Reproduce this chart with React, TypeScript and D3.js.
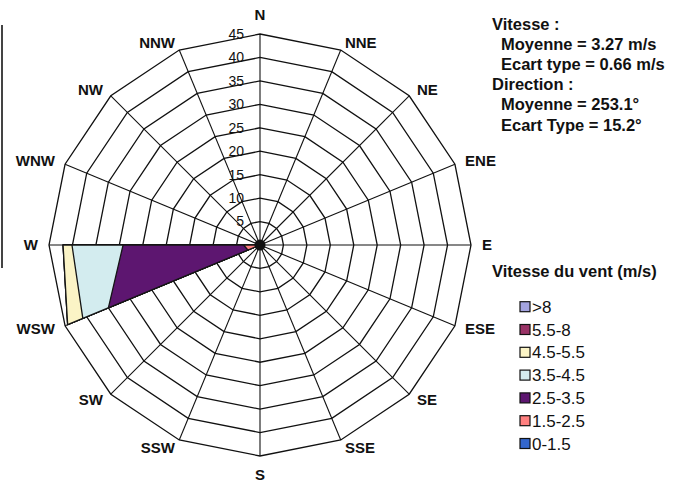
import React from "react";
import * as d3 from "d3";

const directions = ["N","NNE","NE","ENE","E","ESE","SE","SSE","S","SSW","SW","WSW","W","WNW","NW","NNW"];
const speedBins = ["0-1.5","1.5-2.5","2.5-3.5","3.5-4.5","4.5-5.5","5.5-8",">8"];
const binColors = ["#3366cc","#ff8080","#5d1670","#d3ecef","#fbf4c6","#993366","#a3a3df"];
// frequency (%) per direction, index order follows `directions`
const freq0_1_5   = [0,0,0,0,0,0,0,0,0,0,0,0.4,0.5,0,0,0];
const freq1_5_2_5 = [0,0,0,0,0,0,0,0,0,0,0,2.4,3.0,0,0,0];
const freq2_5_3_5 = [0,0,0,0,0,0,0,0,0,0,0,32.2,25.7,0,0,0];
const freq3_5_4_5 = [0,0,0,0,0,0,0,0,0,0,0,5.9,10.9,0,0,0];
const freq4_5_5_5 = [0,0,0,0,0,0,0,0,0,0,0,3.5,1.9,0,0,0];
const freq5_5_8   = [0,0,0,0,0,0,0,0,0,0,0,0,0,0,0,0];
const freqOver8   = [0,0,0,0,0,0,0,0,0,0,0,0,0,0,0,0];
const radialTicks = [5,10,15,20,25,30,35,40,45];
const statsLines = [
  { text: "Vitesse :", indent: false },
  { text: "Moyenne = 3.27 m/s", indent: true },
  { text: "Ecart type = 0.66 m/s", indent: true },
  { text: "Direction :", indent: false },
  { text: "Moyenne = 253.1°", indent: true },
  { text: "Ecart Type = 15.2°", indent: true },
];
const legendTitle = "Vitesse du vent (m/s)";

const W = 675, H = 486;
const cx = 260, cy = 245, R = 211;
const FONT = "'Liberation Sans', Arial, Helvetica, sans-serif";

export default function App() {
  const series = [freq0_1_5, freq1_5_2_5, freq2_5_3_5, freq3_5_4_5, freq4_5_5_5, freq5_5_8, freqOver8];
  const r = d3.scaleLinear().domain([0, 45]).range([0, R]);
  const n = directions.length;
  const ang = (i: number) => (i * 2 * Math.PI) / n;

  const cum: number[][] = [];
  series.forEach((s, k) => {
    cum.push(s.map((v, i) => v + (k > 0 ? cum[k - 1][i] : 0)));
  });

  const radial = d3
    .lineRadial<number>()
    .angle((_, i) => ang(i))
    .radius((d) => r(d))
    .curve(d3.curveLinearClosed);

  const ring = (v: number) => radial(directions.map(() => v)) as string;

  const pt = (i: number, rad: number) => [
    cx + rad * Math.sin(ang(i)),
    cy - rad * Math.cos(ang(i)),
  ];

  return (
    <svg
      width={W}
      height={H}
      style={{ position: "absolute", left: 0, top: 0, background: "#fff" }}
      fontFamily={FONT}
    >
      <rect width={W} height={H} fill="#fff" />
      <line x1={2} y1={25} x2={2} y2={268} stroke="#444" strokeWidth={2} />
      <g transform={`translate(${cx},${cy})`}>
        {radialTicks.map((t) => (
          <path key={t} d={ring(t)} fill="none" stroke="#111" strokeWidth={1.3} />
        ))}
        {directions.map((d, i) => {
          const [x, y] = pt(i, R);
          return (
            <line key={d} x1={0} y1={0} x2={x - cx} y2={y - cy} stroke="#111" strokeWidth={1.1} />
          );
        })}
        {cum
          .map((c, k) => ({ c, k }))
          .reverse()
          .map(({ c, k }) => (
            <path
              key={k}
              d={radial(c) as string}
              fill={binColors[k]}
              stroke="#151515"
              strokeWidth={1.3}
              strokeLinejoin="round"
            />
          ))}
        <circle r={5.5} fill="#111" />
      </g>
      {radialTicks.map((t) => (
        <text
          key={t}
          x={cx - 16}
          y={cy - r(t)}
          dy="0.35em"
          textAnchor="end"
          fontSize={14}
          fill="#111"
        >
          {t}
        </text>
      ))}
      {directions.map((d, i) => {
        const [vx, vy] = pt(i, R);
        const s = Math.sin(ang(i));
        const c = Math.cos(ang(i));
        const vertical = Math.abs(s) < 0.01;
        const x = vertical ? vx : vx + 11 * s;
        const y = vertical ? vy - 19 * c : vy - 8 * c;
        const anchor = vertical ? "middle" : s < 0 ? "end" : "start";
        return (
          <text
            key={d}
            x={x}
            y={y}
            dy="0.35em"
            textAnchor={anchor}
            fontSize={15}
            fontWeight="bold"
            fill="#111"
          >
            {d}
          </text>
        );
      })}
      {statsLines.map((l, i) => (
        <text
          key={i}
          x={l.indent ? 501 : 492}
          y={29.5 + i * 20.2}
          fontSize={16.5}
          fontWeight="bold"
          fill="#111"
        >
          {l.text}
        </text>
      ))}
      <text x={492} y={276.5} fontSize={16.5} fontWeight="bold" fill="#111">
        {legendTitle}
      </text>
      {speedBins
        .map((b, k) => ({ b, k }))
        .reverse()
        .map(({ b, k }, j) => {
          const yc = 306.7 + j * 22.8;
          return (
            <g key={b}>
              <rect x={520} y={yc - 5} width={10} height={10} fill={binColors[k]} stroke="#111" strokeWidth={1.2} />
              <text x={532} y={yc} dy="0.36em" fontSize={17} fill="#111">
                {b}
              </text>
            </g>
          );
        })}
    </svg>
  );
}
